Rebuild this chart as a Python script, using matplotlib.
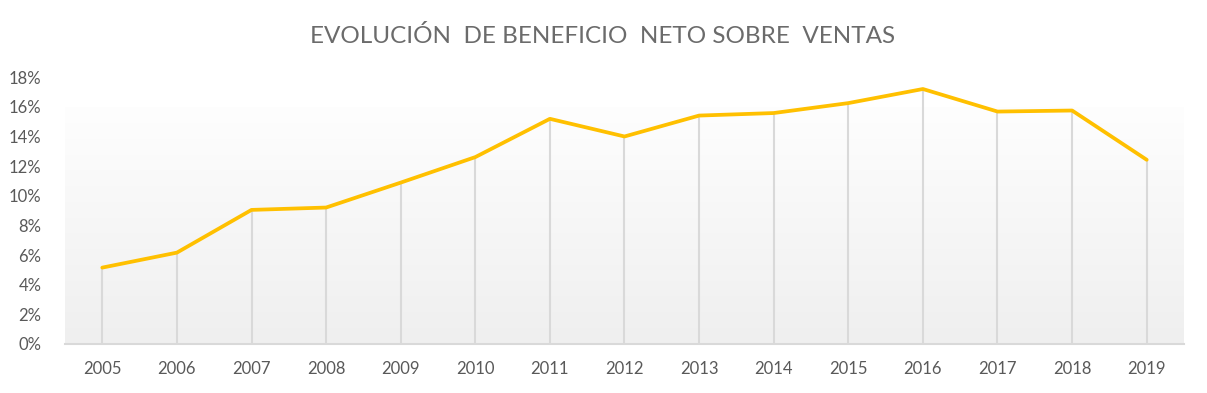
import matplotlib
matplotlib.use("Agg")
import matplotlib.pyplot as plt
import numpy as np
from matplotlib.colors import LinearSegmentedColormap

years = ["2005", "2006", "2007", "2008", "2009", "2010", "2011", "2012",
         "2013", "2014", "2015", "2016", "2017", "2018", "2019"]
margin = [5.15, 6.16, 9.04, 9.20, 10.88, 12.60, 15.18, 13.99,
          15.40, 15.57, 16.24, 17.19, 15.67, 15.74, 12.42]
yticks = [0, 2, 4, 6, 8, 10, 12, 14, 16, 18]
title = "EVOLUCIÓN  DE BENEFICIO  NETO SOBRE  VENTAS"

plt.rcParams['font.family'] = ['Lato', 'DejaVu Sans']
txt = '#595959'

fig = plt.figure(figsize=(12.07, 3.93), dpi=100)
ax = fig.add_axes([65/1207, 1-344/393, (1184-65)/1207, (344-77)/393])

x = np.arange(len(years))
ax.set_xlim(-0.5, len(years)-0.5)
ax.set_ylim(0, 18)

# background gradient
cmap = LinearSegmentedColormap.from_list('g', ['#efefef', '#fefefe'])
grad = np.linspace(0, 1, 256).reshape(-1, 1)
top_frac = (344-107)/(344-77)
ax.imshow(grad, aspect='auto', cmap=cmap, origin='lower',
          extent=[-0.5, len(years)-0.5, 0, 18*top_frac], zorder=0)

ax.vlines(x, 0, margin, colors='#d9d9d9', linewidth=1.5, zorder=1)
ax.plot(x, margin, color='#FFC000', linewidth=2.7, solid_joinstyle='round',
        solid_capstyle='round', zorder=3)

for s in ['top', 'right', 'left']:
    ax.spines[s].set_visible(False)
ax.spines['bottom'].set_color('#d9d9d9')
ax.spines['bottom'].set_linewidth(1.5)

ax.set_xticks(x)
ax.set_xticklabels(years)
ax.set_yticks(yticks)
ax.set_yticklabels([f"{v}%" for v in yticks])
ax.tick_params(axis='both', length=0, labelsize=12, colors=txt)
ax.tick_params(axis='x', pad=12)
ax.tick_params(axis='y', pad=17)

fig.text(603/1207, 1-36/393, title, ha='center', va='center',
         fontsize=17.5, color='#6b6b6b')

fig.savefig('out.png', dpi=100)
